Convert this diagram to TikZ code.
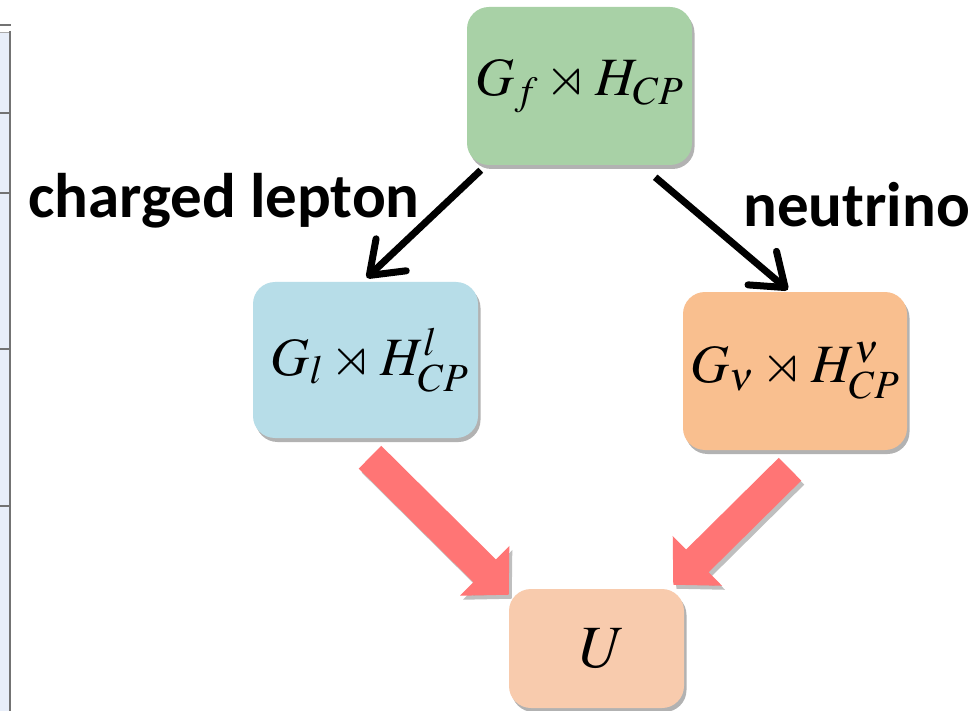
\documentclass[tikz,border=0pt]{standalone}
\usepackage{amssymb}
\usepackage{mathptmx}
\usepackage{fontspec}
\newfontfamily\labelfont{Carlito}
\usetikzlibrary{arrows.meta,shadows,calc}
\definecolor{gfill}{RGB}{168,209,166}
\definecolor{bfill}{RGB}{183,221,232}
\definecolor{ofill}{RGB}{249,191,143}
\definecolor{ufill}{RGB}{248,203,173}
\definecolor{redc}{RGB}{255,117,117}
\definecolor{tabfill}{RGB}{232,238,249}
\definecolor{tabline}{RGB}{115,115,115}
\tikzset{
  box/.style={rounded corners=22pt, inner sep=0pt,
    drop shadow={shadow xshift=2.5pt, shadow yshift=-4pt, opacity=0.3, fill=black}},
  mathtext/.style={font=\fontsize{54}{60}\selectfont},
  lbl/.style={font=\labelfont\bfseries\fontsize{63}{66}\selectfont, inner sep=0pt, anchor=base west},
  blk/.style={line width=7pt, draw=black, -{Straight Barb[length=30pt,width=44pt,round]}},
  fat/.style={line width=32pt, draw=redc, -{Triangle[length=34pt,width=68pt]}},
  fatshadow/.style={line width=32pt, draw=black, opacity=0.25, -{Triangle[length=34pt,width=68pt]}, transform canvas={shift={(3pt,-4pt)}}},
  tabrule/.style={draw=tabline, line width=1.5pt}
}
\begin{document}
\begin{tikzpicture}[x=1pt,y=-1pt]
\useasboundingbox (0,0) rectangle (974,711);
\fill[white] (0,0) rectangle (974,711);
% cropped table at the left edge
\fill[tabfill] (0,33) rectangle (9,711);
\draw[tabrule] (0,25) -- (11,25);
\draw[draw=tabline!60, line width=1pt] (0,33) -- (10,33);
\draw[tabrule] (0,113) -- (10,113);
\draw[tabrule] (0,193) -- (10,193);
\draw[tabrule] (0,349) -- (10,349);
\draw[tabrule] (0,506) -- (10,506);
\draw[draw=tabline, line width=2.5pt] (10,31) -- (10,711);
% boxes
\node[box, fill=gfill, minimum width=225pt, minimum height=158pt, mathtext] (gf) at (579.5,86) {$G_f \rtimes H_{CP}$};
\node[box, fill=bfill, minimum width=225pt, minimum height=156pt, mathtext] (bl) at (365.5,360) {\hspace*{8pt}$G_l \rtimes H^{l}_{CP}$};
\node[box, fill=ofill, minimum width=224pt, minimum height=158pt, mathtext] (or) at (795,371) {$G_\nu \rtimes H^{\nu}_{CP}$};
\node[box, fill=ufill, minimum width=175pt, minimum height=119pt, font=\fontsize{60}{62}\selectfont] (u) at (596.5,648.5) {\hspace*{12pt}$U$};
% labels
\node[lbl] (cl) at (28,218) {charged lepton};
\node[lbl] (nu) at (743,227) {neutrino};
% black arrows
\draw[blk] ($(gf.south west)+(14,5)$) -- ($(bl.north west)+(114,-4)$);
\draw[blk] ($(gf.south east)+(-37,12)$) -- ($(or.north west)+(105,-2)$);
% red fat arrows
\draw[fatshadow] ($(bl.south)+(4.5,19)$) -- ($(u.north west)+(0,6)$);
\draw[fatshadow] ($(or.south)+(-5,19)$) -- ($(u.north east)+(-11,-4)$);
\draw[fat] ($(bl.south)+(4.5,19)$) -- ($(u.north west)+(0,6)$);
\draw[fat] ($(or.south)+(-5,19)$) -- ($(u.north east)+(-11,-4)$);
\end{tikzpicture}
\end{document}
